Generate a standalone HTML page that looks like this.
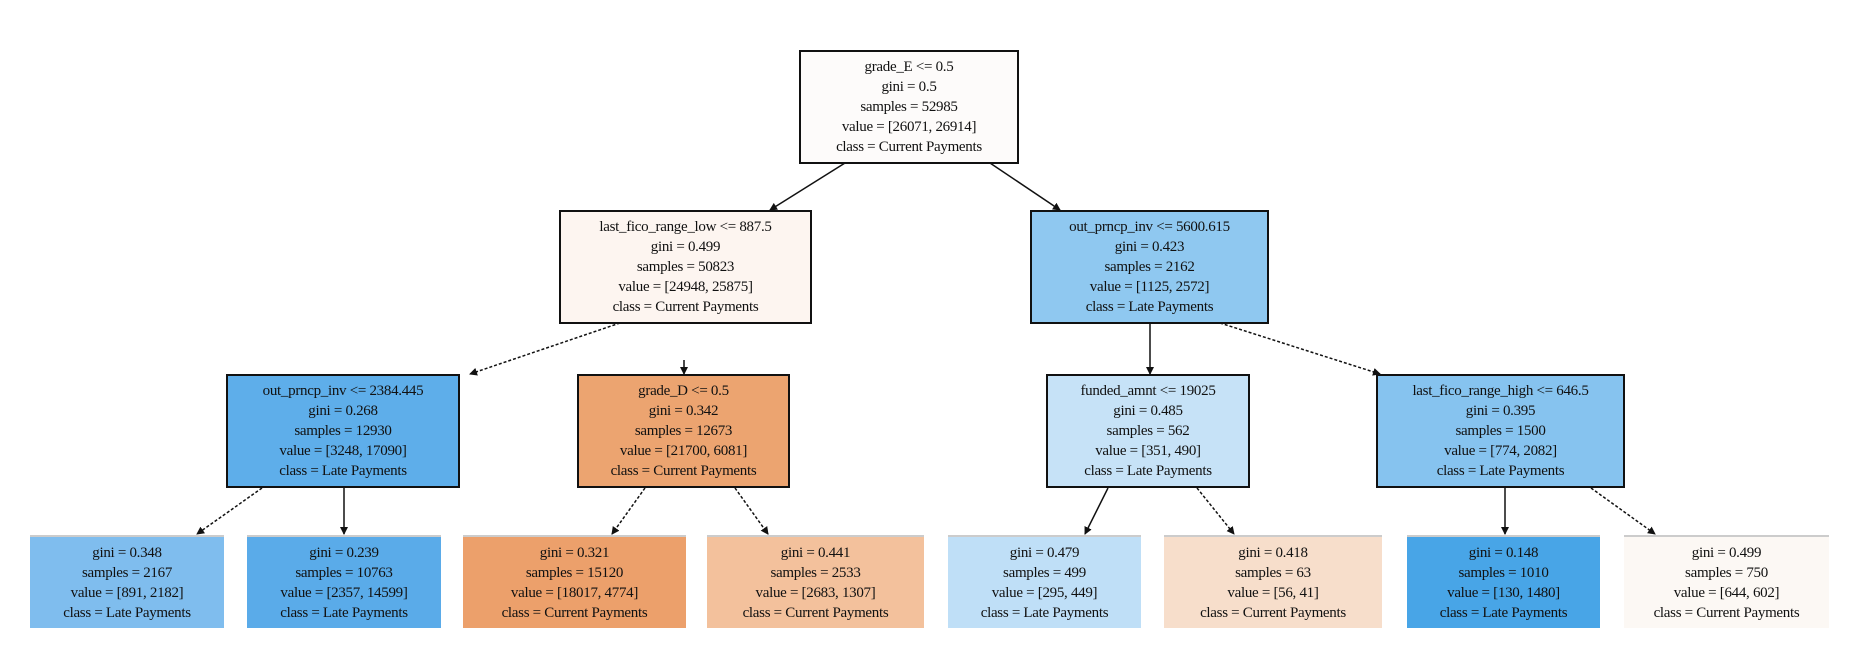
<!DOCTYPE html>
<html><head><meta charset="utf-8"><style>
body{margin:0;background:#fff;width:1864px;height:668px;position:relative;overflow:hidden;font-family:"Liberation Serif",serif;}
.n{position:absolute;box-sizing:border-box;border:2px solid #111;display:flex;flex-direction:column;justify-content:center;align-items:center;font-size:15px;line-height:20px;color:#111;text-align:center;white-space:nowrap;letter-spacing:-0.3px}
.l{border:none;border-top:2px solid #ccc;}
svg{position:absolute;left:0;top:0}
</style></head><body>
<svg width="1864" height="668">
<defs><marker id="a" markerWidth="8" markerHeight="8" refX="7" refY="4" orient="auto" markerUnits="userSpaceOnUse"><path d="M0,0 L8,4 L0,8 z" fill="#111"/></marker></defs>
<g stroke="#111" stroke-width="1.5" fill="none" marker-end="url(#a)">
<line x1="845" y1="163" x2="770" y2="210"/>
<line x1="990" y1="163" x2="1060" y2="210"/>
<line x1="620" y1="323" x2="470" y2="374" stroke-dasharray="3,2"/>
<line x1="684" y1="360" x2="684" y2="374"/>
<line x1="1150" y1="323" x2="1150" y2="374"/>
<line x1="1220" y1="323" x2="1380" y2="374" stroke-dasharray="3,2"/>
<line x1="262" y1="488" x2="197" y2="534" stroke-dasharray="3,2"/>
<line x1="344" y1="488" x2="344" y2="534"/>
<line x1="645" y1="488" x2="612" y2="534" stroke-dasharray="3,2"/>
<line x1="735" y1="488" x2="768" y2="534" stroke-dasharray="3,2"/>
<line x1="1108" y1="488" x2="1085" y2="534"/>
<line x1="1197" y1="488" x2="1234" y2="534" stroke-dasharray="3,2"/>
<line x1="1505" y1="488" x2="1505" y2="534"/>
<line x1="1591" y1="488" x2="1655" y2="534" stroke-dasharray="3,2"/>
</g></svg>
<div class="n" style="left:799px;top:50px;width:220px;height:114px;background:#fdfbfa">grade_E &lt;= 0.5<br>gini = 0.5<br>samples = 52985<br>value = [26071, 26914]<br>class = Current Payments</div>
<div class="n" style="left:559px;top:210px;width:253px;height:114px;background:#fdf5f0">last_fico_range_low &lt;= 887.5<br>gini = 0.499<br>samples = 50823<br>value = [24948, 25875]<br>class = Current Payments</div>
<div class="n" style="left:1030px;top:210px;width:239px;height:114px;background:#8fc8f0">out_prncp_inv &lt;= 5600.615<br>gini = 0.423<br>samples = 2162<br>value = [1125, 2572]<br>class = Late Payments</div>
<div class="n" style="left:226px;top:374px;width:234px;height:114px;background:#5eaeea">out_prncp_inv &lt;= 2384.445<br>gini = 0.268<br>samples = 12930<br>value = [3248, 17090]<br>class = Late Payments</div>
<div class="n" style="left:577px;top:374px;width:213px;height:114px;background:#eca470">grade_D &lt;= 0.5<br>gini = 0.342<br>samples = 12673<br>value = [21700, 6081]<br>class = Current Payments</div>
<div class="n" style="left:1046px;top:374px;width:204px;height:114px;background:#c6e2f7">funded_amnt &lt;= 19025<br>gini = 0.485<br>samples = 562<br>value = [351, 490]<br>class = Late Payments</div>
<div class="n" style="left:1376px;top:374px;width:249px;height:114px;background:#86c3ef">last_fico_range_high &lt;= 646.5<br>gini = 0.395<br>samples = 1500<br>value = [774, 2082]<br>class = Late Payments</div>
<div class="n l" style="left:30px;top:535px;width:194px;height:93px;background:#7fbdee">gini = 0.348<br>samples = 2167<br>value = [891, 2182]<br>class = Late Payments</div>
<div class="n l" style="left:247px;top:535px;width:194px;height:93px;background:#5aabe9">gini = 0.239<br>samples = 10763<br>value = [2357, 14599]<br>class = Late Payments</div>
<div class="n l" style="left:463px;top:535px;width:223px;height:93px;background:#eca06b">gini = 0.321<br>samples = 15120<br>value = [18017, 4774]<br>class = Current Payments</div>
<div class="n l" style="left:707px;top:535px;width:217px;height:93px;background:#f3c19c">gini = 0.441<br>samples = 2533<br>value = [2683, 1307]<br>class = Current Payments</div>
<div class="n l" style="left:948px;top:535px;width:193px;height:93px;background:#bfdff7">gini = 0.479<br>samples = 499<br>value = [295, 449]<br>class = Late Payments</div>
<div class="n l" style="left:1164px;top:535px;width:218px;height:93px;background:#f7decb">gini = 0.418<br>samples = 63<br>value = [56, 41]<br>class = Current Payments</div>
<div class="n l" style="left:1407px;top:535px;width:193px;height:93px;background:#48a5e7">gini = 0.148<br>samples = 1010<br>value = [130, 1480]<br>class = Late Payments</div>
<div class="n l" style="left:1624px;top:535px;width:205px;height:93px;background:#fcf8f4">gini = 0.499<br>samples = 750<br>value = [644, 602]<br>class = Current Payments</div>
</body></html>
